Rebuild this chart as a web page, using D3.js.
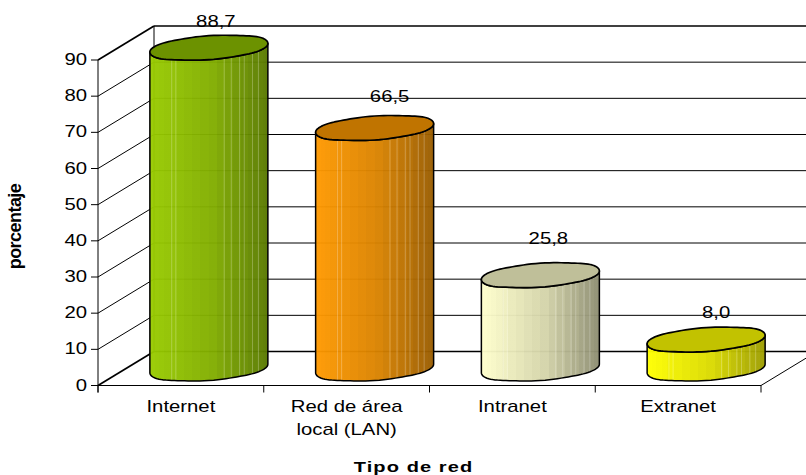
<!DOCTYPE html>
<html><head><meta charset="utf-8">
<script src="https://cdn.jsdelivr.net/npm/d3@7"></script>
<style>html,body{margin:0;background:#fff}svg{display:block}text{font-family:"Liberation Sans",Arial,sans-serif;fill:#000}</style>
</head><body><svg id="c" width="806" height="475"></svg>
<script>
const categories=[["Internet"],["Red de área","local (LAN)"],["Intranet"],["Extranet"]];
const values=[88.7,66.5,25.8,8.0];
const valueLabels=["88,7","66,5","25,8","8,0"];
const yTicks=[0,10,20,30,40,50,60,70,80,90];
const sideLeft=["#99cc00","#ff9900","#ffffcc","#ffff00"];
const sideRight=["#587800","#985c00","#8c8c70","#9c9c00"];
const topFill=["#6c9200","#c07400","#bfbf99","#c2c200"];
const yTitle="porcentaje", xTitle="Tipo de red";
const seams=[.185,.22,.63,.69,.76,.8,.87,.92];

const svg=d3.select("#c"), defs=svg.append("defs");
const W=806, dx=56, dy=34;
const x=d3.scaleBand().domain(d3.range(4)).range([98,761]);
const y=d3.scaleLinear().domain([0,90]).range([385.5,60]);
const mid=i=>x(i)+x.bandwidth()/2;
const label=(px,py,s,anchor,size)=>svg.append("text")
  .attr("transform","translate("+px+","+py+") scale(1.27,1)")
  .attr("text-anchor",anchor).attr("font-size",size).text(s);

const grid=svg.append("g").attr("stroke","#000").attr("fill","none");
yTicks.forEach(t=>{
  const w=(t===0||t===90)?1.7:1;
  grid.append("line").attr("x1",98).attr("y1",y(t)).attr("x2",98+dx).attr("y2",y(t)-dy).attr("stroke-width",w);
  grid.append("line").attr("x1",98+dx).attr("y1",y(t)-dy).attr("x2",W).attr("y2",y(t)-dy).attr("stroke-width",w);
});
grid.append("line").attr("x1",98+dx).attr("y1",y(90)-dy).attr("x2",98+dx).attr("y2",y(0)-dy).attr("stroke-width",1);
grid.append("line").attr("x1",761).attr("y1",y(0)).attr("x2",W).attr("y2",y(0)-dy*45/56).attr("stroke-width",1);

const ax=svg.append("g").attr("stroke","#000").attr("stroke-width",1);
ax.append("line").attr("x1",98).attr("y1",y(90)).attr("x2",98).attr("y2",y(0)+7);
ax.append("line").attr("x1",91).attr("y1",y(0)).attr("x2",761).attr("y2",y(0));
yTicks.forEach(t=>ax.append("line").attr("x1",91).attr("x2",98).attr("y1",y(t)).attr("y2",y(t)));
d3.range(5).forEach(i=>{const px=98+i*x.bandwidth();ax.append("line").attr("x1",px).attr("x2",px).attr("y1",y(0)).attr("y2",y(0)+7);});

const rx=59, ry=11.7, sk=4.4, pw=0.92;
const spow=v=>Math.sign(v)*Math.pow(Math.abs(v),pw);
const pt=(cx,cy,t)=>{
  const wob=1+0.025*Math.sin(6*t-1.57);
  return [cx+rx*spow(Math.cos(t)), cy+(ry*spow(Math.sin(t))-sk*Math.cos(t))*wob];
};
const line=d3.line();
const labelNudgeX=[0,8,1,3], labelNudgeY=[0,-5,-10,-1];
values.forEach((v,i)=>{
  const cx=mid(i)+dx/2, yT=y(v)-dy/2, yB=y(0)-dy/2;
  const front=d3.range(0,49).map(k=>Math.PI-k/48*Math.PI);
  const outline=[...front.map(t=>pt(cx,yT,t)),...front.slice().reverse().map(t=>pt(cx,yB,t))];
  const g=svg.append("g");
  const gid="g"+i, cid="k"+i;
  const lg=defs.append("linearGradient").attr("id",gid).attr("gradientUnits","userSpaceOnUse")
    .attr("x1",cx-rx).attr("x2",cx+rx).attr("y1",0).attr("y2",0);
  const col=d3.interpolateRgb(sideLeft[i],sideRight[i]);
  const N=22;
  const ease=f=>f<.55?f*.7:.385+(f-.55)/.45*.615;
  d3.range(N).forEach(k=>{
    const a=(1-Math.cos(Math.PI*k/N))/2, b=(1-Math.cos(Math.PI*(k+1)/N))/2, c=col(ease((a+b)/2));
    lg.append("stop").attr("offset",a).attr("stop-color",c);
    lg.append("stop").attr("offset",b).attr("stop-color",c);
  });
  defs.append("clipPath").attr("id",cid).append("path").attr("d",line(outline)+"Z");
  g.append("path").attr("d",line(outline)+"Z").attr("fill","url(#"+gid+")").attr("fill-opacity",.96);
  const sg=g.append("g").attr("clip-path","url(#"+cid+")");
  seams.forEach(s=>{const px=cx-rx+s*2*rx;
    sg.append("line").attr("x1",px).attr("x2",px).attr("y1",yT-20).attr("y2",yB+20).attr("stroke","#fff").attr("stroke-opacity",.25).attr("stroke-width",1);});
  g.append("path").attr("d",line(outline)+"Z").attr("fill","none").attr("stroke","#000").attr("stroke-width",1.5).attr("stroke-linejoin","round");
  const full=d3.range(0,96).map(k=>k/96*2*Math.PI).map(t=>pt(cx,yT,t));
  g.append("path").attr("d",line(full)+"Z").attr("fill",topFill[i]).attr("stroke","#000").attr("stroke-width",1.7).attr("stroke-linejoin","round");
  label(cx+7+labelNudgeX[i],yT-21+labelNudgeY[i],valueLabels[i],"middle",16);
});

yTicks.forEach(t=>label(87,y(t)+5,t,"end",16));
categories.forEach((c,i)=>c.forEach((s,j)=>label(mid(i),411.5+j*23,s,"middle",16)));
svg.append("text").attr("transform","translate(21,226.5) rotate(-90)").attr("text-anchor","middle").attr("font-size",18).attr("font-weight","bold").attr("letter-spacing",-.55).text(yTitle);
svg.append("text").attr("transform","translate(413.5,472) scale(1.38,1)").attr("text-anchor","middle").attr("font-size",14.5).attr("font-weight","bold").attr("letter-spacing",.8).text(xTitle);
</script></body></html>
